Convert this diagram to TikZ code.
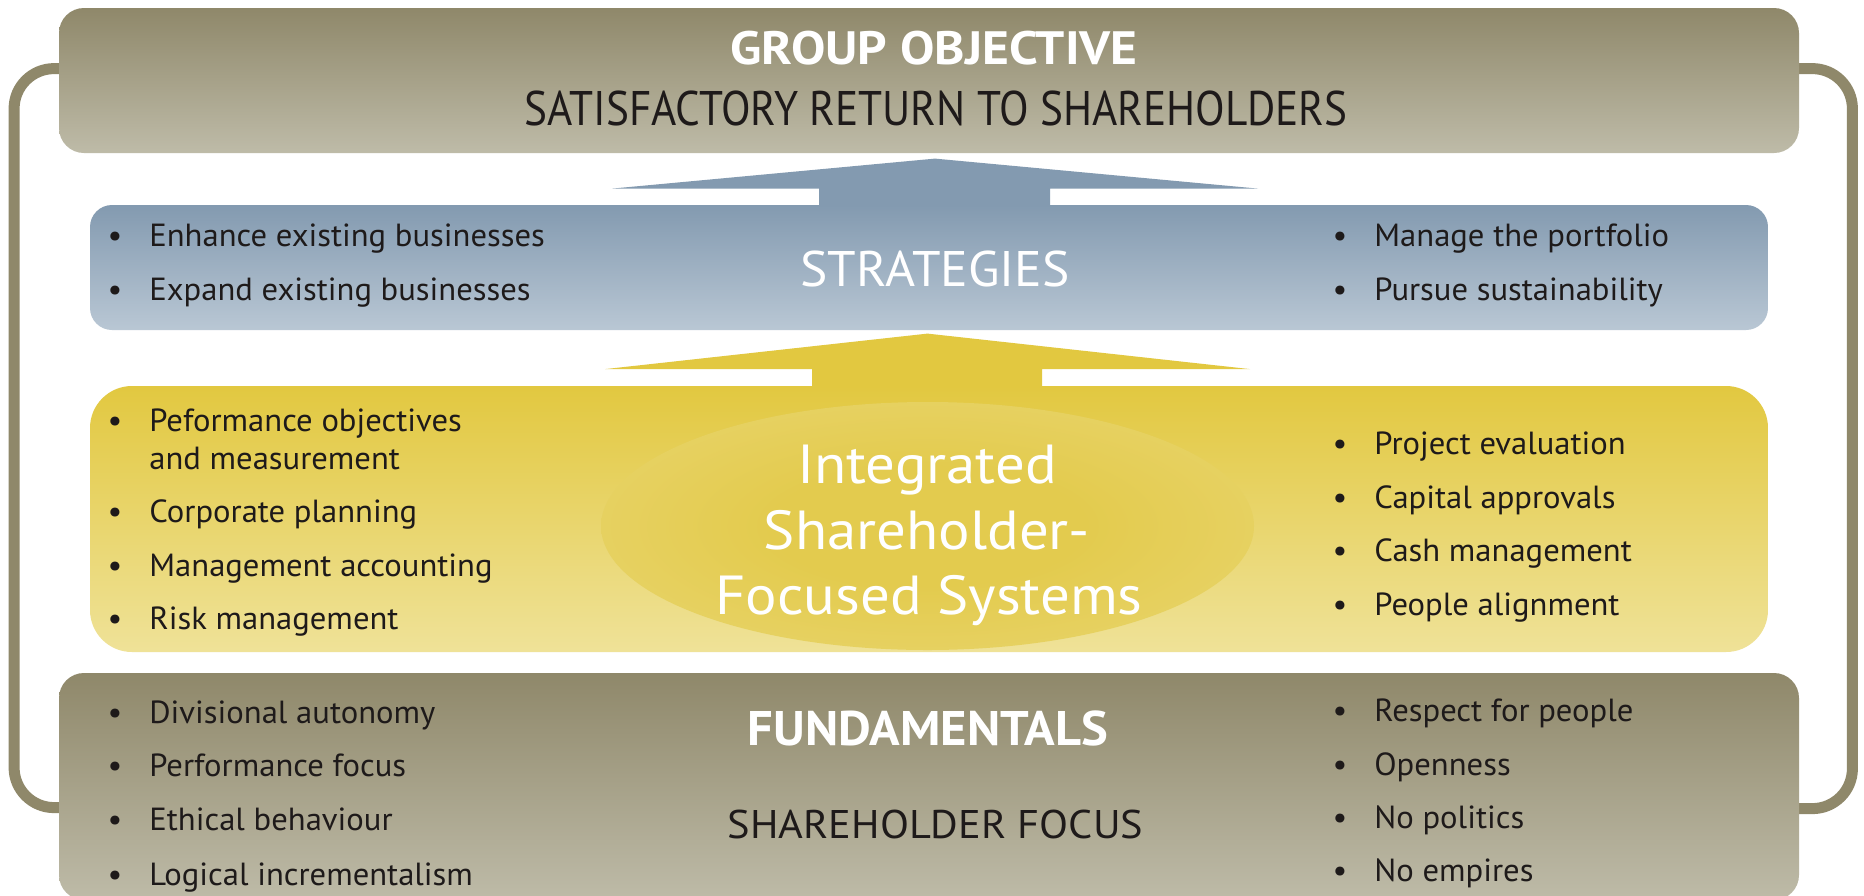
\documentclass[tikz,border=0pt]{standalone}
\usepackage{fontspec}
\setmainfont{PT Sans}
\newfontfamily\fbul{PT Sans}[FakeStretch=1.02]
\newfontfamily\fgoal{PT Sans}[FakeStretch=1.1]
\newfontfamily\fsat{PT Sans}[FakeStretch=0.89]
\newfontfamily\fstrat{PT Sans}[FakeStretch=1.03]
\newfontfamily\fcore{PT Sans}[FakeStretch=1.07]
\newfontfamily\ffund{PT Sans}[FakeStretch=1.04]
\newfontfamily\fshf{PT Sans}[FakeStretch=1.06]
\usetikzlibrary{calc,shapes.geometric}
\pgfdeclarelayer{bg}
\pgfsetlayers{bg,main}
\definecolor{olivetop}{RGB}{143,136,106}
\definecolor{olivebot}{RGB}{190,187,168}
\definecolor{bluetop}{RGB}{131,154,176}
\definecolor{bluebot}{RGB}{185,199,212}
\definecolor{yeltop}{RGB}{226,200,64}
\definecolor{yelbot}{RGB}{239,226,152}
\definecolor{ellin}{RGB}{227,203,78}
\definecolor{ellout}{RGB}{237,220,132}
\definecolor{ink}{RGB}{30,26,26}
\pgfdeclareradialshading{ellshade}{\pgfpoint{0bp}{0bp}}{color(0bp)=(ellin); color(12bp)=(ellin); color(50bp)=(ellout)}
\newcommand\bitem[3]{\node[bitemtext] (#1) at (#2) {\llap{\textbullet\hspace{13.5pt}}#3};}
\newcommand\citem[3]{\node[bitemtext] (#1) at (#2) {#3};}
\begin{document}
\begin{tikzpicture}[x=0.5pt,y=-0.5pt,
  panel/.style={rectangle, draw=none, inner sep=0pt, rounded corners=12.5pt},
  olivepanel/.style={panel, top color=olivetop, bottom color=olivebot},
  bluepanel/.style={panel, top color=bluetop, bottom color=bluebot, rounded corners=11pt},
  yelpanel/.style={panel, top color=yeltop, bottom color=yelbot, rounded corners=21pt},
  loopline/.style={draw=olivetop, line width=5.5pt, rounded corners=20pt},
  bitemtext/.style={anchor=base west, inner sep=0pt, text=ink, font=\fbul\fontsize{16}{19}\selectfont},
  whitehead/.style={anchor=base, inner sep=0pt, text=white},
  inkhead/.style={anchor=base, inner sep=0pt, text=ink},
]
\useasboundingbox (0,0) rectangle (1864,895);
\begin{pgfonlayer}{bg}
\fill[white] (0,0) rectangle (1864,895);
\end{pgfonlayer}

% panels
\node[olivepanel, minimum width=870pt, minimum height=72.5pt] (goal) at (929,80.5) {};
\node[olivepanel, minimum width=870pt, minimum height=113.5pt] (fund) at (929,786.5) {};
\node[bluepanel, minimum width=839pt, minimum height=62.5pt] (strat) at (929,267.5) {};
\node[yelpanel, minimum width=839pt, minimum height=133pt] (sys) at (929,519) {};

% loop connector behind the panels
\begin{pgfonlayer}{bg}
\draw[loopline] ($(goal.north west)+(5,61)$) -- ($(goal.north west)+(-44.5,61)$) -- ($(fund.north west)+(-44.5,135)$) -- ($(fund.north west)+(5,135)$);
\draw[loopline] ($(goal.north east)+(-5,61)$) -- ($(goal.north east)+(53,61)$) -- ($(fund.north east)+(53,136)$) -- ($(fund.north east)+(-5,136)$);
\end{pgfonlayer}

% arrows
\fill[bluetop] ($(strat.north)+(-110,1)$) -- ($(strat.north)+(-110,-16)$) -- ($(strat.north)+(-317,-16)$) -- ($(strat.north)+(6,-46)$) -- ($(strat.north)+(329,-16)$) -- ($(strat.north)+(121,-16)$) -- ($(strat.north)+(121,1)$) -- cycle;
\fill[yeltop] ($(sys.north)+(-117,1)$) -- ($(sys.north)+(-117,-16.5)$) -- ($(sys.north)+(-324,-16.5)$) -- ($(sys.north)+(-1.5,-52)$) -- ($(sys.north)+(321,-16.5)$) -- ($(sys.north)+(113,-16.5)$) -- ($(sys.north)+(113,1)$) -- cycle;

% ellipse
\node[ellipse, draw=none, inner sep=0pt, minimum width=326.5pt, minimum height=124pt, shading=ellshade] (core) at (927.5,526) {};

% titles
\node[whitehead, font=\fgoal\bfseries\fontsize{23.4}{28}\selectfont] (t1) at (934,64) {GROUP OBJECTIVE};
\node[inkhead, font=\fsat\fontsize{24.3}{28}\selectfont] (t2) at (936,125) {SATISFACTORY RETURN TO SHAREHOLDERS};
\node[whitehead, font=\fstrat\fontsize{25}{30}\selectfont] (t3) at (935,286) {STRATEGIES};
\node[whitehead, font=\fcore\fontsize{27.5}{32}\selectfont] (c1) at (927,483) {Integrated};
\node[whitehead, font=\fcore\fontsize{27.5}{32}\selectfont] (c2) at (927,549) {Shareholder-};
\node[whitehead, font=\fcore\fontsize{27.5}{32}\selectfont] (c3) at (929,614) {Focused Systems};
\node[whitehead, font=\ffund\bfseries\fontsize{24.3}{28}\selectfont] (t4) at (928,745) {FUNDAMENTALS};
\node[inkhead, font=\fshf\fontsize{20}{24}\selectfont] (t5) at (935.5,838) {SHAREHOLDER FOCUS};

% strategies bullets
\bitem{s1}{149,246}{Enhance existing businesses}
\bitem{s2}{149,300}{Expand existing businesses}
\bitem{s3}{1374,246}{Manage the portfolio}
\bitem{s4}{1374,300}{Pursue sustainability}

% systems bullets
\bitem{y1}{149,431.6}{Peformance objectives}
\citem{y1b}{149,469.5}{and measurement}
\bitem{y2}{149,522.8}{Corporate planning}
\bitem{y3}{149,576.8}{Management accounting}
\bitem{y4}{149,629.8}{Risk management}
\bitem{y5}{1374,454.3}{Project evaluation}
\bitem{y6}{1374,508.4}{Capital approvals}
\bitem{y7}{1374,561.4}{Cash management}
\bitem{y8}{1374,615.4}{People alignment}

% fundamentals bullets
\bitem{f1}{149,723.5}{Divisional autonomy}
\bitem{f2}{149,776.8}{Performance focus}
\bitem{f3}{149,830.9}{Ethical behaviour}
\bitem{f4}{149,885}{Logical incrementalism}
\bitem{f5}{1374,721}{Respect for people}
\bitem{f6}{1374,775}{Openness}
\bitem{f7}{1374,828}{No politics}
\bitem{f8}{1374,881}{No empires}
\end{tikzpicture}
\end{document}
